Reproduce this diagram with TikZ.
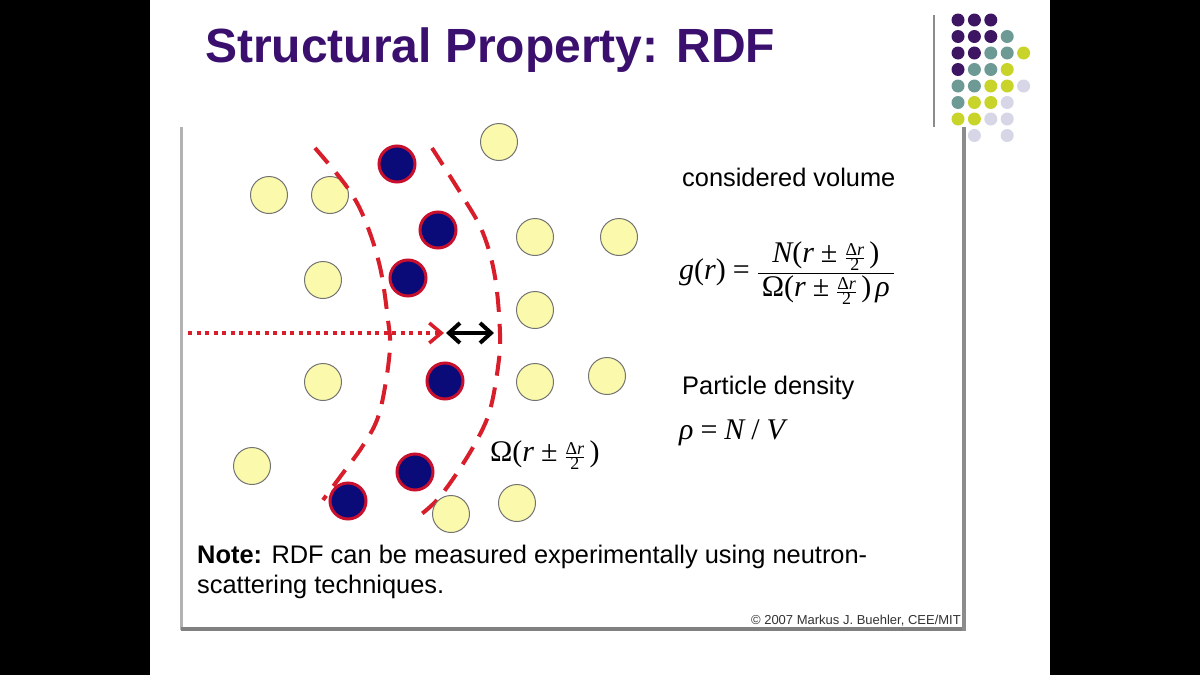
\documentclass[tikz,border=0pt]{standalone}
\usepackage{fontspec}
\setmainfont{Liberation Sans}
\newfontfamily\tms{Liberation Serif}
\usetikzlibrary{arrows.meta}
\newcommand\rmT[1]{\mbox{\tms #1}}
\newcommand\itT[1]{\mbox{\tms\itshape #1}}
\newcommand\pmT{\;\rmT{±}\;}
\newcommand\halfdr{\mbox{\fontsize{18}{19}\selectfont$\frac{\mbox{\tms Δ\itshape r}}{\mbox{\tms 2}}$}}
\definecolor{titlepurple}{HTML}{3A0F6E}
\definecolor{lpurple}{HTML}{3D1562}
\definecolor{lteal}{HTML}{6E9A96}
\definecolor{lyellow}{HTML}{C8D42A}
\definecolor{llav}{HTML}{D6D6E6}
\definecolor{yelfill}{HTML}{FBF9AC}
\definecolor{navyfill}{HTML}{0A0A78}
\definecolor{ringred}{HTML}{C8102E}
\definecolor{dashred}{HTML}{D81E2A}
\tikzset{
  yel/.style={circle, draw=black!55, fill=yelfill, line width=1pt, minimum size=37pt, inner sep=0pt},
  nav/.style={circle, draw=ringred, fill=navyfill, line width=3pt, minimum size=36pt, inner sep=0pt},
  ldot/.style={circle, fill=#1, minimum size=13pt, inner sep=0pt},
  shell/.style={dashred, line width=4pt, dash pattern=on 20pt off 12pt},
  txt/.style={font=\fontsize{25.4}{30}\selectfont, anchor=base west, inner sep=0pt},
  mth/.style={font=\fontsize{30}{35}\selectfont, anchor=west, inner sep=0pt},
}
\begin{document}
\begin{tikzpicture}[x=1pt,y=-1pt]
\useasboundingbox (0,0) rectangle (1200,675);
\fill[white] (0,0) rectangle (1200,675);
\fill[black] (0,0) rectangle (150,675);
\fill[black] (1050,0) rectangle (1200,675);
% title
\node[anchor=base west, inner sep=0pt, text=titlepurple, font=\fontsize{48}{58}\selectfont\bfseries] (title) at (205,62) {Structural Property: RDF};
% logo
\draw[black!45, line width=1.5pt] (934,15) -- (934,127);
\foreach \c/\r/\col in {0/0/lpurple,1/0/lpurple,2/0/lpurple,
  0/1/lpurple,1/1/lpurple,2/1/lpurple,3/1/lteal,
  0/2/lpurple,1/2/lpurple,2/2/lteal,3/2/lteal,4/2/lyellow,
  0/3/lpurple,1/3/lteal,2/3/lteal,3/3/lyellow,
  0/4/lteal,1/4/lteal,2/4/lyellow,3/4/lyellow,4/4/llav,
  0/5/lteal,1/5/lyellow,2/5/lyellow,3/5/llav,
  0/6/lyellow,1/6/lyellow,2/6/llav,3/6/llav,
  1/7/llav,3/7/llav}
  \node[ldot=\col] (ld-\c-\r) at ({958+16.4*\c},{20+16.5*\r}) {};
% image frame
\draw[black!30, line width=3pt] (181,127) -- (181,630);
\draw[black!50, line width=4pt] (181,629) -- (966,629);
\draw[black!45, line width=4pt] (964,127) -- (964,631);
% a yellow particle lying under the shell
\node[yel] (y3) at (330,195) {};
% shells
\draw[shell] plot[smooth, tension=0.6] coordinates {(315,148) (347,187) (365,220) (380,267) (388,320) (390,347) (385,387) (377,420) (362,447) (343,473) (323,500)};
\draw[shell] plot[smooth, tension=0.6] coordinates {(432,148) (463,197) (483,233) (495,277) (500,333) (498,367) (490,410) (477,440) (457,473) (437,500) (419,516)};
% yellow particles
\node[yel] (y1) at (499,142) {};
\node[yel] (y2) at (269,195) {};
\node[yel] (y4) at (535,237) {};
\node[yel] (y5) at (619,237) {};
\node[yel] (y6) at (323,280) {};
\node[yel] (y7) at (535,310) {};
\node[yel] (y8) at (323,382) {};
\node[yel] (y9) at (535,382) {};
\node[yel] (y10) at (607,376) {};
\node[yel] (y11) at (252,466) {};
\node[yel] (y12) at (517,503) {};
\node[yel] (y13) at (451,514) {};
% navy particles
\node[nav] (n1) at (397,164) {};
\node[nav] (n2) at (438,230) {};
\node[nav] (n3) at (408,278) {};
\node[nav] (n4) at (445,381) {};
\node[nav] (n5) at (415,472) {};
\node[nav] (n6) at (348,501) {};
% arrows
\coordinate (rs) at (188,333);
\coordinate (re) at (444,333);
\coordinate (ds) at (446,333);
\coordinate (de) at (494,333);
\draw[dashred, line width=4pt, dash pattern=on 4pt off 4.5pt, -{Straight Barb[length=12pt,width=20pt,line width=3.5pt]}] (rs) -- (re);
\draw[black, line width=4pt, {Straight Barb[length=11pt,width=20pt]}-{Straight Barb[length=11pt,width=20pt]}] (ds) -- (de);
% texts
\node[txt] (cv) at (682,186) {considered volume};
\node[mth] (gr) at (679,273) {$\displaystyle \itT{g}\rmT{(}\itT{r}\rmT{)}\;\rmT{=}\;\frac{\,\itT{N}\rmT{(}\itT{r}\pmT\halfdr\,\rmT{)}\,}{\,\rmT{Ω(}\itT{r}\pmT\halfdr\,\rmT{)}\,\itT{ρ}\,}$};
\node[txt] (pd) at (682,394) {Particle density};
\node[mth] (rho) at (679,433) {$\itT{ρ}\;\rmT{=}\;\itT{N}\;\rmT{/}\;\itT{V}$};
\node[mth] (om) at (490,455) {$\rmT{Ω(}\itT{r}\pmT\halfdr\,\rmT{)}$};
\node[txt] (note1) at (197,563) {\textbf{Note:} RDF can be measured experimentally using neutron-};
\node[txt] (note2) at (197,593) {scattering techniques.};
\node[anchor=base east, inner sep=0pt, font=\fontsize{13}{15}\selectfont, text=black!80] (copy) at (961,624) {© 2007 Markus J. Buehler, CEE/MIT};
\end{tikzpicture}
\end{document}
